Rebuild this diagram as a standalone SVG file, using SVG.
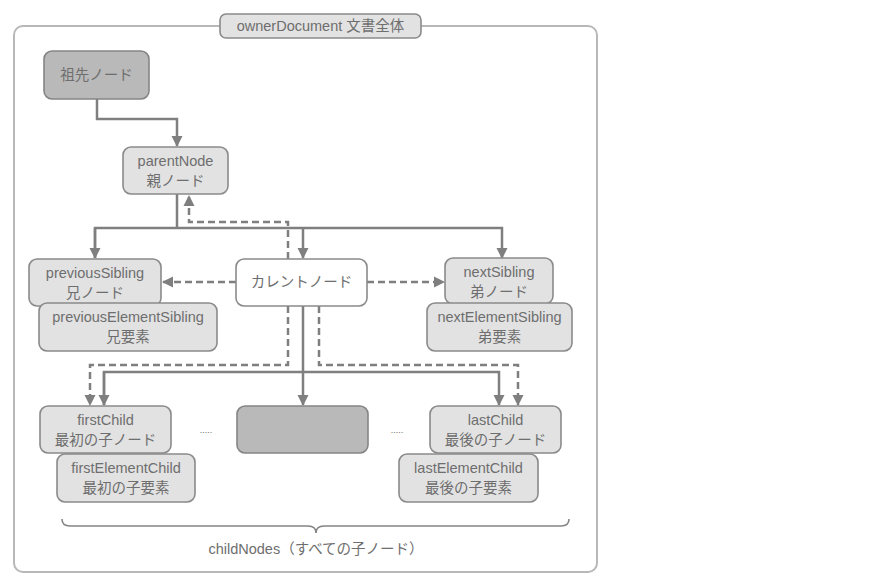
<svg xmlns="http://www.w3.org/2000/svg" width="874" height="583" viewBox="0 0 874 583">
<style>
.t{font-family:"Liberation Sans","Noto Sans CJK JP",sans-serif;font-size:14.5px;fill:#6e6e6e;text-anchor:middle}
.lt{fill:#e2e2e2;stroke:#8a8a8a;stroke-width:1.6}
.dk{fill:#b9b9b9;stroke:#858585;stroke-width:1.6}
.wh{fill:#ffffff;stroke:#8a8a8a;stroke-width:1.6}
.c{fill:none;stroke:#7f7f7f;stroke-width:2.5}
.d{fill:none;stroke:#7f7f7f;stroke-width:2.5;stroke-dasharray:7 4}
</style>
<defs>
<marker id="ah" markerUnits="userSpaceOnUse" markerWidth="12" markerHeight="12" refX="10" refY="6" orient="auto">
<path d="M0,0.5 L11,6 L0,11.5 Z" fill="#7f7f7f"/>
</marker>
</defs>
<rect width="874" height="583" fill="#ffffff"/>
<g id="frame">
<rect x="14" y="26" width="583" height="546" rx="9" fill="#ffffff" stroke="#b8b8b8" stroke-width="2"/>
<rect x="220" y="14" width="201" height="24" rx="6" class="lt"/>
<text class="t" x="320.5" y="31">ownerDocument 文書全体</text>
</g>
<g id="connectors">
<path class="c" d="M97,99 V119 H177 V146" marker-end="url(#ah)"/>
<path class="c" d="M177,194 V228"/>
<path class="c" d="M95,258 V228 H502 V258" marker-end="url(#ah)"/>
<path class="c" d="M95,228 V258" marker-end="url(#ah)"/>
<path class="c" d="M303,228 V258" marker-end="url(#ah)"/>
<path class="d" d="M288,259 V222 H189 V196" marker-end="url(#ah)"/>
<path class="d" d="M236,282 H163" marker-end="url(#ah)"/>
<path class="d" d="M367,282 H444" marker-end="url(#ah)"/>
<path class="c" d="M303,306 V405" marker-end="url(#ah)"/>
<path class="c" d="M104,405 V372 H499 V405" marker-end="url(#ah)"/>
<path class="c" d="M104,372 V405" marker-end="url(#ah)"/>
<path class="d" d="M288,306 V365 H90 V405" marker-end="url(#ah)"/>
<path class="d" d="M319,306 V365 H518 V405" marker-end="url(#ah)"/>
</g>
<g id="ancestor">
<rect x="44" y="51" width="105" height="48" rx="8" class="dk"/>
<text class="t" x="96.5" y="80">祖先ノード</text>
</g>
<g id="parentNode">
<rect x="123" y="147" width="105" height="47" rx="8" class="lt"/>
<text class="t" x="175.5" y="166">parentNode</text>
<text class="t" x="175.5" y="186">親ノード</text>
</g>
<g id="previousSibling">
<rect x="29" y="259" width="132" height="47" rx="8" class="lt"/>
<text class="t" x="95" y="278">previousSibling</text>
<text class="t" x="95" y="298">兄ノード</text>
</g>
<g id="previousElementSibling">
<rect x="39" y="303" width="178" height="48" rx="8" class="lt"/>
<text class="t" x="128" y="322">previousElementSibling</text>
<text class="t" x="128" y="342">兄要素</text>
</g>
<g id="current">
<rect x="236" y="259" width="131" height="47" rx="8" class="wh"/>
<text class="t" x="301.5" y="287">カレントノード</text>
</g>
<g id="nextSibling">
<rect x="445" y="258" width="108" height="46" rx="8" class="lt"/>
<text class="t" x="499" y="277">nextSibling</text>
<text class="t" x="499" y="297">弟ノード</text>
</g>
<g id="nextElementSibling">
<rect x="427" y="303" width="145" height="48" rx="8" class="lt"/>
<text class="t" x="499.5" y="322">nextElementSibling</text>
<text class="t" x="499.5" y="342">弟要素</text>
</g>
<g id="firstChild">
<rect x="40" y="406" width="131" height="47" rx="8" class="lt"/>
<text class="t" x="105.5" y="425">firstChild</text>
<text class="t" x="105.5" y="445">最初の子ノード</text>
</g>
<g id="firstElementChild">
<rect x="57" y="454" width="138" height="48" rx="8" class="lt"/>
<text class="t" x="126" y="473">firstElementChild</text>
<text class="t" x="126" y="493">最初の子要素</text>
</g>
<g id="middleChild">
<rect x="237" y="406" width="131" height="47" rx="8" class="dk"/>
</g>
<g id="lastChild">
<rect x="430" y="406" width="131" height="47" rx="8" class="lt"/>
<text class="t" x="495.5" y="425">lastChild</text>
<text class="t" x="495.5" y="445">最後の子ノード</text>
</g>
<g id="lastElementChild">
<rect x="399" y="454" width="139" height="48" rx="8" class="lt"/>
<text class="t" x="468.5" y="473">lastElementChild</text>
<text class="t" x="468.5" y="493">最後の子要素</text>
</g>
<g id="ellipses">
<text class="t" x="206" y="433" style="font-size:9px">.....</text>
<text class="t" x="397" y="433" style="font-size:9px">.....</text>
</g>
<g id="childNodes">
<path d="M62,519 Q62,526 70,526 H308 Q316,526 316,533 Q316,526 324,526 H561 Q569,526 569,519" fill="none" stroke="#858585" stroke-width="1.6"/>
<text class="t" x="316" y="554">childNodes（すべての子ノード）</text>
</g>
</svg>
